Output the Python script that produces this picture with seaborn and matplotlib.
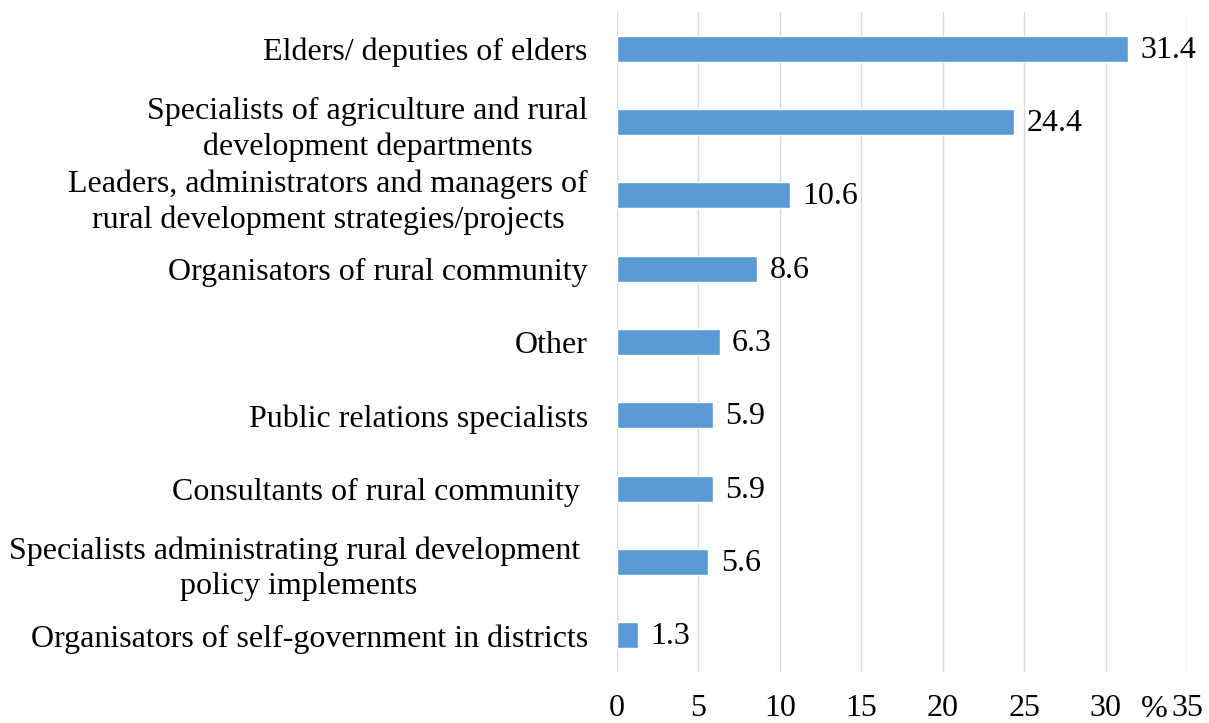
import matplotlib
matplotlib.use("Agg")
import matplotlib.pyplot as plt
import seaborn as sns
import pandas as pd

categories = [
    "Elders/ deputies of elders",
    "Specialists of agriculture and rural\ndevelopment departments",
    "Leaders, administrators and managers of\nrural development strategies/projects",
    "Organisators of rural community",
    "Other",
    "Public relations specialists",
    "Consultants of rural community ",
    "Specialists administrating rural development \npolicy implements",
    "Organisators of self-government in districts",
]
values = [31.4, 24.4, 10.6, 8.6, 6.3, 5.9, 5.9, 5.6, 1.3]
x_ticks = [0, 5, 10, 15, 20, 25, 30, 35]

sns.set_style("white")
plt.rcParams["font.family"] = ["Liberation Serif", "DejaVu Serif"]

df = pd.DataFrame({"category": categories, "value": values})

fig = plt.figure(figsize=(12.09, 7.23), dpi=100)
ax = fig.add_axes([0.5103, 0.0705, 0.4715, 0.9129])

sns.barplot(data=df, x="value", y="category", orient="h", color="#5B9BD5",
            width=0.355, saturation=1, ax=ax, zorder=3)

FS = 23
ax.set_xlim(0, 35)
ax.set_ylim(len(categories) - 0.5, -0.5)
ax.set_xticks(x_ticks)
ax.xaxis.grid(True, color="#D9D9D9", linewidth=1.0, zorder=0)
ax.yaxis.grid(False)
for s in ax.spines.values():
    s.set_visible(False)
ax.set_xlabel("")
ax.set_ylabel("")
ax.tick_params(axis="x", length=0, pad=16, labelsize=FS, colors="#000000")
ax.tick_params(axis="y", length=0, pad=21, labelsize=FS, colors="#000000")
for lab in ax.get_yticklabels():
    lab.set_multialignment("center")
    lab.set_linespacing(1.3)

for i, v in enumerate(values):
    ax.annotate(f"{v}", xy=(v, i), xytext=(9, -1), textcoords="offset points",
                va="center", ha="left", fontsize=FS, color="#000000")

ax.text(0.942, -0.057, "%", transform=ax.transAxes, fontsize=FS,
        ha="center", va="center", color="#000000")

fig.savefig("out.png", dpi=100)
